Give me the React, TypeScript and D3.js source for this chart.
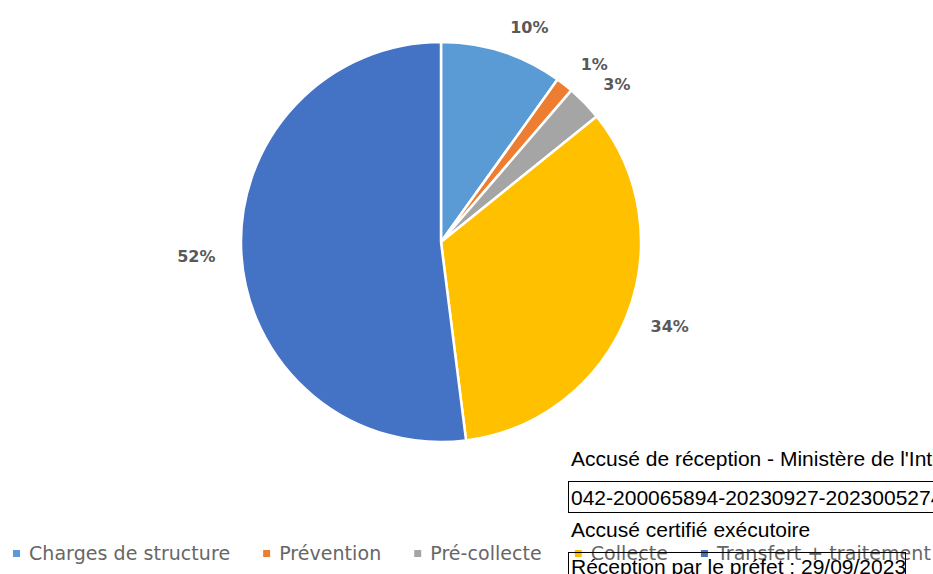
import React, { useEffect, useRef } from "react";
import * as d3 from "d3";

// chart data
const categories = ["Charges de structure", "Prévention", "Pré-collecte", "Collecte", "Transfert + traitement"];
const shares = [9.9, 1.4, 2.9, 33.8, 52.0];
const colors = ["#5B9BD5", "#ED7D31", "#A5A5A5", "#FFC000", "#4472C4"];

// stamp overlay texts
const stampTitle = "Accusé de réception - Ministère de l'Intérieur";
const stampId = "042-200065894-20230927-20230052744-DE";
const stampStatus = "Accusé certifié exécutoire";
const stampDate = "Réception par le préfet : 29/09/2023";

const App = (): JSX.Element => {
    const ref = useRef<SVGSVGElement>(null);
    const width = 933;
    const height = 574;
    const cx = 441;
    const cy = 242;
    const radius = 200;

    useEffect(() => {
        if (!ref.current) return;
        const svg = d3.select(ref.current);
        svg.selectAll("*").remove();

        const data = categories.map((name, i) => ({ name, value: shares[i], color: colors[i] }));
        const pie = d3
            .pie<{ name: string; value: number; color: string }>()
            .sort(null)
            .value((d) => d.value);
        const arcs = pie(data);
        const arc = d3.arc<any>().innerRadius(0).outerRadius(radius);
        const mid = (d: any) => (d.startAngle + d.endAngle) / 2;

        const g = svg.append("g").attr("transform", `translate(${cx},${cy})`);
        g.selectAll("path")
            .data(arcs)
            .join("path")
            .attr("d", arc)
            .attr("fill", (d) => d.data.color)
            .attr("stroke", "#fff")
            .attr("stroke-width", 2.5)
            .attr("stroke-linejoin", "round");

        // outside-end labels
        const labelR = radius + 26;
        g.selectAll("text.lbl")
            .data(arcs)
            .join("text")
            .attr("class", "lbl")
            .attr("x", (d) => labelR * Math.sin(mid(d)))
            .attr("y", (d) => -labelR * Math.cos(mid(d)))
            .attr("dy", "0.36em")
            .attr("text-anchor", (d) => (Math.sin(mid(d)) >= 0 ? "start" : "end"))
            .attr("font-family", "'DejaVu Sans', sans-serif")
            .attr("font-size", 16)
            .attr("font-weight", "bold")
            .attr("fill", "#595959")
            .text((d) => `${Math.round(d.data.value)}%`);

        // legend
        const legend = svg.append("g").attr("transform", "translate(13,550)");
        let x = 0;
        data.forEach((d) => {
            const item = legend.append("g").attr("transform", `translate(${x},0)`);
            item.append("rect").attr("width", 7).attr("height", 7).attr("fill", d.color);
            const t = item
                .append("text")
                .attr("x", 16)
                .attr("y", 10)
                .attr("font-family", "'DejaVu Sans', sans-serif")
                .attr("font-size", 19)
                .attr("letter-spacing", 0.05)
                .attr("fill", "#666")
                .text(d.name);
            const w = (t.node() as SVGTextElement).getComputedTextLength();
            x += 16 + w + 33;
        });

        // stamp overlay
        const stamp = svg
            .append("g")
            .attr("font-family", "'Liberation Sans', Arial, sans-serif")
            .attr("font-size", 21)
            .attr("fill", "#000");
        stamp.append("text").attr("x", 571).attr("y", 466).text(stampTitle);
        stamp.append("rect").attr("x", 568.5).attr("y", 481.5).attr("width", 420).attr("height", 31).attr("fill", "none").attr("stroke", "#000");
        stamp.append("text").attr("x", 571).attr("y", 505).text(stampId);
        stamp.append("text").attr("x", 571).attr("y", 537).text(stampStatus);
        stamp.append("rect").attr("x", 568.5).attr("y", 552.5).attr("width", 337).attr("height", 40).attr("fill", "none").attr("stroke", "#000");
        stamp.append("text").attr("x", 571).attr("y", 574).text(stampDate);
    }, []);

    return (
        <svg
            ref={ref}
            width={width}
            height={height}
            style={{ position: "absolute", left: 0, top: 0, background: "#fff" }}
        />
    );
};

export default App;
